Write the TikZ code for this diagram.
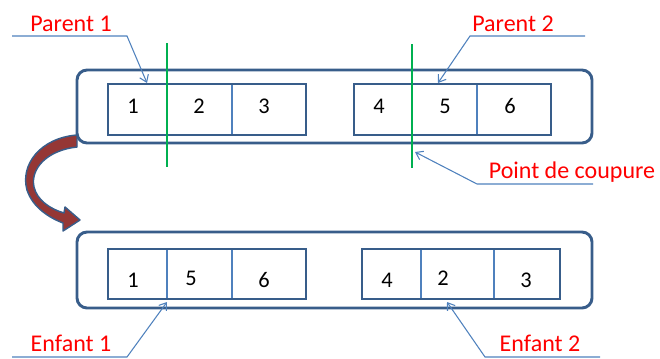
\documentclass[tikz,border=0pt]{standalone}
\usepackage{fontspec}
\setmainfont{Carlito}
\usetikzlibrary{arrows.meta}
\definecolor{boxblue}{RGB}{56,93,138}
\definecolor{lineblue}{RGB}{79,129,189}
\definecolor{cutgreen}{RGB}{0,176,80}
\definecolor{arrowred}{RGB}{149,55,53}
\tikzset{
  outerbox/.style={draw=boxblue, line width=2.2pt, rounded corners=7.5pt},
  cell/.style={draw=lineblue, line width=0.8pt, inner sep=0pt, outer sep=0pt, minimum height=38pt},
  group/.style={draw=boxblue, line width=1.6pt},
  num/.style={font=\fontsize{16.8}{18}\selectfont, anchor=base, inner sep=0pt},
  lab/.style={text=red, font=\fontsize{18}{20}\selectfont, anchor=base, inner sep=0pt},
  cutline/.style={draw=cutgreen, line width=2.2pt},
  callout/.style={draw=lineblue, line width=0.8pt, -{Straight Barb[length=5pt,width=7pt]}},
}
\begin{document}
\begin{tikzpicture}[x=0.75pt,y=-0.75pt]
\useasboundingbox (0,0) rectangle (660,358);
% outer rounded boxes
\draw[outerbox] (77,70) rectangle (592,143);
\draw[outerbox] (77,232) rectangle (592,308);
% top cells
\node[cell, minimum width=44.25pt] (tl1) at (137.5,109.5) {};
\node[cell, minimum width=48.75pt] (tl2) at (199.5,109.5) {};
\node[cell, minimum width=55.5pt]  (tl3) at (269,109.5) {};
\node[cell, minimum width=43.5pt]  (tr1) at (383,109.5) {};
\node[cell, minimum width=48.75pt] (tr2) at (444.5,109.5) {};
\node[cell, minimum width=55.5pt]  (tr3) at (514,109.5) {};
\draw[group] (tl1.north west) rectangle (tl3.south east);
\draw[group] (tr1.north west) rectangle (tr3.south east);
% bottom cells
\node[cell, minimum width=44.25pt, minimum height=37.5pt] (bl1) at (137.5,274) {};
\node[cell, minimum width=48.75pt, minimum height=37.5pt] (bl2) at (199.5,274) {};
\node[cell, minimum width=55.5pt, minimum height=37.5pt]  (bl3) at (269,274) {};
\node[cell, minimum width=44.25pt, minimum height=37.5pt] (br1) at (391.5,274) {};
\node[cell, minimum width=54.75pt, minimum height=37.5pt] (br2) at (457.5,274) {};
\node[cell, minimum width=49.5pt, minimum height=37.5pt]  (br3) at (527,274) {};
\draw[group] (bl1.north west) rectangle (bl3.south east);
\draw[group] (br1.north west) rectangle (br3.south east);
% numbers
\node[num] (n1) at (133,113) {1};
\node[num] (n2) at (199,113) {2};
\node[num] (n3) at (264,113) {3};
\node[num] (n4) at (379,113) {4};
\node[num] (n5) at (445,113) {5};
\node[num] (n6) at (510,113) {6};
\node[num] (m1) at (133,287) {1};
\node[num] (m2) at (191,285) {5};
\node[num] (m3) at (264,287) {6};
\node[num] (m4) at (387,287) {4};
\node[num] (m5) at (443,285) {2};
\node[num] (m6) at (526,287) {3};
% cut lines
\coordinate (g1a) at (167,43);
\coordinate (g1b) at (167,167);
\coordinate (g2a) at (412,44);
\coordinate (g2b) at (412,168);
\draw[cutline] (g1a) -- (g1b);
\draw[cutline] (g2a) -- (g2b);
% labels
\node[lab] (p1) at (71,31) {Parent 1};
\node[lab] (p2) at (513,31) {Parent 2};
\node[lab] (pc) at (572,178) {Point de coupure};
\node[lab] (e1) at (71,351) {Enfant 1};
\node[lab] (e2) at (540,351) {Enfant 2};
% callouts
\coordinate (c1s) at (12,36);  \coordinate (c1m) at (127,36);  \coordinate (c1t) at (147,83);
\coordinate (c2s) at (585,36); \coordinate (c2m) at (470,36);  \coordinate (c2t) at (438,83);
\coordinate (c3s) at (593,184);\coordinate (c3m) at (477,184); \coordinate (c3t) at (415,152);
\coordinate (c4s) at (12,357); \coordinate (c4m) at (127,357); \coordinate (c4t) at (167,302);
\coordinate (c5s) at (600,357);\coordinate (c5m) at (485,357); \coordinate (c5t) at (447,302);
\draw[callout] (c1s) -- (c1m) -- (c1t);
\draw[callout] (c2s) -- (c2m) -- (c2t);
\draw[callout] (c3s) -- (c3m) -- (c3t);
\draw[callout] (c4s) -- (c4m) -- (c4t);
\draw[callout] (c5s) -- (c5m) -- (c5t);
% curved red arrow
\draw[fill=arrowred, draw=boxblue, line width=1.1pt, line join=round]
  (77,135) .. controls (40,138) and (20,165) .. (27,190)
  .. controls (33,208) and (50,218) .. (63,223)
  -- (63,231) -- (80,220) -- (65,207) -- (64,213)
  .. controls (50,209) and (37,200) .. (34,187)
  .. controls (30,168) and (48,150) .. (77,147) -- cycle;
\end{tikzpicture}
\end{document}
